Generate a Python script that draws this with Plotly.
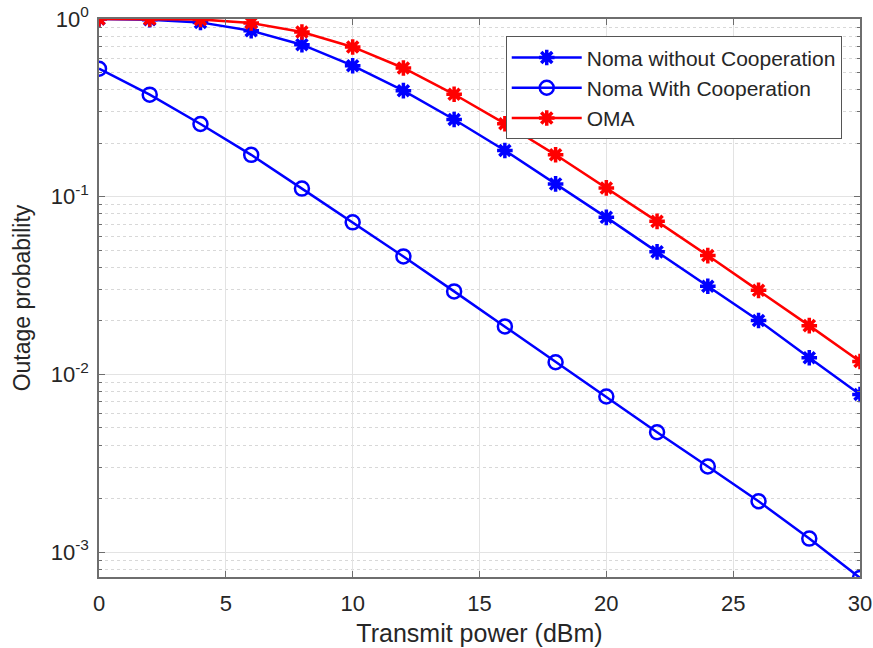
import plotly.graph_objects as go

power_dbm = [0, 2, 4, 6, 8, 10, 12, 14, 16, 18, 20, 22, 24, 26, 28, 30]

noma_without_coop = [1.0, 0.99, 0.957, 0.859, 0.717, 0.546, 0.395, 0.272, 0.182, 0.118,
                     0.0765, 0.0489, 0.0313, 0.0201, 0.0124, 0.0077]
noma_with_coop = [0.525, 0.375, 0.2565, 0.172, 0.111, 0.0717, 0.0461, 0.0293, 0.0186, 0.0117,
                  0.0075, 0.00472, 0.00303, 0.00193, 0.00119, 0.000715]
oma = [1.0, 1.0, 0.995, 0.95, 0.845, 0.696, 0.530, 0.377, 0.2575, 0.172,
       0.112, 0.0726, 0.0466, 0.0297, 0.0188, 0.0118]

y_major_vals = [1, 0.1, 0.01, 0.001]
y_major_text = ["10<sup>0</sup>", "10<sup>-1</sup>", "10<sup>-2</sup>", "10<sup>-3</sup>"]
x_tick_vals = [0, 5, 10, 15, 20, 25, 30]

minor_vals = [m * d for d in [1e-4, 1e-3, 1e-2, 1e-1] for m in range(2, 10)]

font_family = "Liberation Sans, Arial, Helvetica, sans-serif"
text_color = "#262626"
axis_color = "#6e6e6e"

fig = go.Figure()
fig.add_trace(go.Scatter(
    x=power_dbm, y=noma_without_coop, mode="lines+markers",
    name="Noma without Cooperation",
    line=dict(color="#0000FF", width=2.5),
    marker=dict(symbol="asterisk-open", size=13, color="#0000FF",
                line=dict(color="#0000FF", width=3.5)),
))
fig.add_trace(go.Scatter(
    x=power_dbm, y=noma_with_coop, mode="lines+markers",
    name="Noma With Cooperation",
    line=dict(color="#0000FF", width=2.5),
    marker=dict(symbol="circle-open", size=14, color="#0000FF",
                line=dict(color="#0000FF", width=2.5)),
))
fig.add_trace(go.Scatter(
    x=power_dbm, y=oma, mode="lines+markers",
    name="OMA",
    line=dict(color="#FF0000", width=2.5),
    marker=dict(symbol="asterisk-open", size=13, color="#FF0000",
                line=dict(color="#FF0000", width=3.5)),
))

fig.update_layout(
    width=873, height=648,
    margin=dict(l=99, r=13, t=19, b=71),
    paper_bgcolor="white", plot_bgcolor="white",
    font=dict(family=font_family, size=21, color=text_color),
    showlegend=True,
    legend=dict(
        x=0.976, y=0.969, xanchor="right", yanchor="top",
        bgcolor="white", bordercolor="#555555", borderwidth=1,
        font=dict(size=21, color=text_color),
        itemwidth=70, tracegroupgap=0,
    ),
)

fig.update_xaxes(
    range=[0, 30], automargin=False,
    tickvals=x_tick_vals,
    showline=True, linecolor=axis_color, linewidth=1.5, mirror="ticks",
    ticks="inside", ticklen=6, tickcolor=axis_color,
    showgrid=True, gridcolor="#e3e3e3", gridwidth=1,
    zeroline=False,
    tickfont=dict(size=22, color=text_color),
    ticklabelstandoff=6,
    title=dict(text="Transmit power (dBm)", font=dict(size=25, color=text_color), standoff=9),
)

fig.update_yaxes(
    type="log", automargin=False,
    range=[-3.1407, 0],
    tickmode="array", tickvals=y_major_vals, ticktext=y_major_text,
    showline=True, linecolor=axis_color, linewidth=1.5, mirror="ticks",
    ticks="inside", ticklen=6, tickcolor=axis_color,
    showgrid=True, gridcolor="#e3e3e3", gridwidth=1,
    zeroline=False,
    tickfont=dict(size=22, color=text_color),
    ticklabelstandoff=4,
    title=dict(text="Outage probability", font=dict(size=23, color=text_color), standoff=14),
    minor=dict(tickmode="array", tickvals=minor_vals, ticks="inside", ticklen=3,
               tickcolor=axis_color, showgrid=True, gridcolor="#d8d8d8",
               griddash="dot", gridwidth=1),
)

fig.write_html("out.html", config={"displayModeBar": False},
               post_script="document.body.style.margin='0';")
